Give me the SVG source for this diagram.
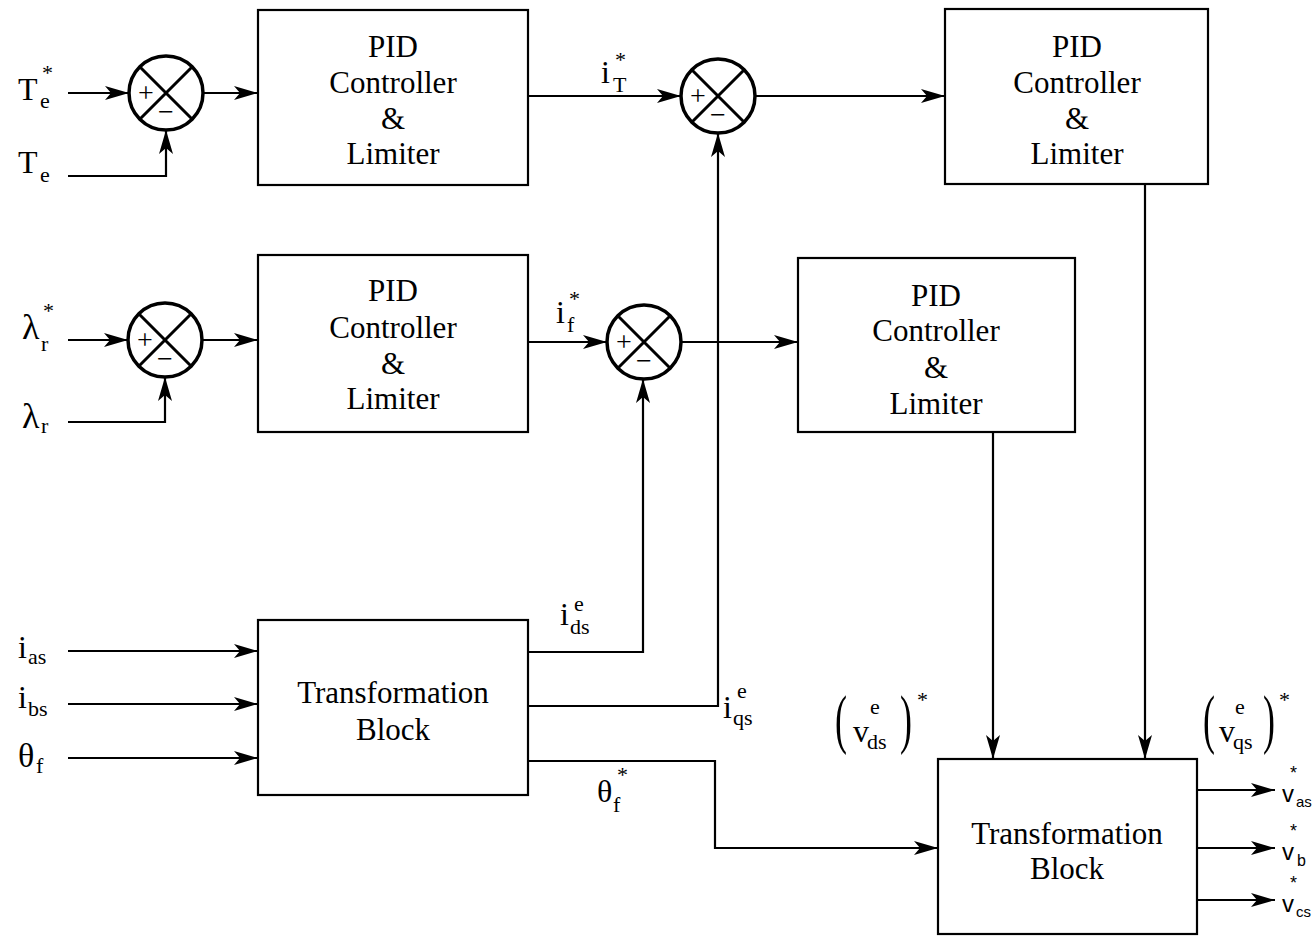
<svg xmlns="http://www.w3.org/2000/svg" width="1312" height="936" viewBox="0 0 1312 936">
<defs>
<style>
.box{fill:#fff;stroke:#000;stroke-width:2.2}
.sum{fill:#fff;stroke:#000;stroke-width:3.5}
.x{stroke:#000;stroke-width:3}
.ln{fill:none;stroke:#000;stroke-width:2.2}
.t{font-family:"Liberation Serif","Times New Roman",serif;font-size:32px;fill:#000}
.bt{font-family:"Liberation Serif","Times New Roman",serif;font-size:31px;fill:#000;text-anchor:middle}
.sub{font-family:"Liberation Serif","Times New Roman",serif;font-size:22px;fill:#000}
.sg{font-family:"Liberation Serif","Times New Roman",serif;font-size:28px;fill:#000;text-anchor:middle}
.ss{font-family:"Liberation Sans",Arial,sans-serif;fill:#000}
.par{font-family:"Liberation Serif","Times New Roman",serif;font-size:60px;fill:#000}
</style>
<marker id="arr" markerWidth="24" markerHeight="14" refX="24" refY="7" orient="auto" markerUnits="userSpaceOnUse">
<path d="M0,0 L24,7 L0,14 L6,7 z" fill="#000"/>
</marker>
</defs>
<rect width="1312" height="936" fill="#fff"/>

<g id="connectors" class="ln" marker-end="url(#arr)">
<path d="M68,93 H129"/>
<path d="M68,176 H166 V130"/>
<path d="M203,93 H258"/>
<path d="M528,96 H681"/>
<path d="M755,96 H945"/>
<path d="M68,340 H128"/>
<path d="M68,422 H165 V377"/>
<path d="M202,340 H258"/>
<path d="M528,342 H607"/>
<path d="M681,342 H798"/>
<path d="M528,652 H643 V379"/>
<path d="M528,706 H718 V133"/>
<path d="M528,761 H715 V848 H938"/>
<path d="M993,432 V759"/>
<path d="M1145,184 V759"/>
<path d="M1197,790 H1275"/>
<path d="M1197,848 H1275"/>
<path d="M1197,900 H1275"/>
<path d="M68,651 H258"/>
<path d="M68,704 H258"/>
<path d="M68,758 H258"/>
</g>

<g id="sum1">
<circle class="sum" cx="166" cy="93" r="37"/>
<path class="x" d="M140,67 L192,119 M192,67 L140,119"/>
<text class="sg" x="146" y="102">+</text>
<text class="sg" x="166" y="121">−</text>
</g>
<g id="sum2">
<circle class="sum" cx="165" cy="340" r="37"/>
<path class="x" d="M139,314 L191,366 M191,314 L139,366"/>
<text class="sg" x="145" y="349">+</text>
<text class="sg" x="165" y="368">−</text>
</g>
<g id="sum3">
<circle class="sum" cx="718" cy="96" r="37"/>
<path class="x" d="M692,70 L744,122 M744,70 L692,122"/>
<text class="sg" x="698" y="105">+</text>
<text class="sg" x="718" y="124">−</text>
</g>
<g id="sum4">
<circle class="sum" cx="644" cy="342" r="37"/>
<path class="x" d="M618,316 L670,368 M670,316 L618,368"/>
<text class="sg" x="624" y="351">+</text>
<text class="sg" x="644" y="370">−</text>
</g>

<g id="pid1">
<rect class="box" x="258" y="10" width="270" height="175"/>
<text class="bt" x="393" y="57">PID</text>
<text class="bt" x="393" y="93">Controller</text>
<text class="bt" x="393" y="129">&amp;</text>
<text class="bt" x="393" y="164">Limiter</text>
</g>
<g id="pid2">
<rect class="box" x="258" y="255" width="270" height="177"/>
<text class="bt" x="393" y="301">PID</text>
<text class="bt" x="393" y="338">Controller</text>
<text class="bt" x="393" y="374">&amp;</text>
<text class="bt" x="393" y="409">Limiter</text>
</g>
<g id="pid3">
<rect class="box" x="798" y="258" width="277" height="174"/>
<text class="bt" x="936" y="306">PID</text>
<text class="bt" x="936" y="341">Controller</text>
<text class="bt" x="936" y="378">&amp;</text>
<text class="bt" x="936" y="414">Limiter</text>
</g>
<g id="pid4">
<rect class="box" x="945" y="9" width="263" height="175"/>
<text class="bt" x="1077" y="57">PID</text>
<text class="bt" x="1077" y="93">Controller</text>
<text class="bt" x="1077" y="129">&amp;</text>
<text class="bt" x="1077" y="164">Limiter</text>
</g>
<g id="trans1">
<rect class="box" x="258" y="620" width="270" height="175"/>
<text class="bt" x="393" y="703">Transformation</text>
<text class="bt" x="393" y="740">Block</text>
</g>
<g id="trans2">
<rect class="box" x="938" y="759" width="259" height="175"/>
<text class="bt" x="1067" y="844">Transformation</text>
<text class="bt" x="1067" y="879">Block</text>
</g>

<g id="labels">
<text class="t" x="18" y="100">T</text><text class="sub" x="40" y="108">e</text><text class="sub" x="42" y="80">*</text>
<text class="t" x="18" y="173">T</text><text class="sub" x="40" y="182">e</text>
<text class="t" x="22" y="339" style="font-size:36px">λ</text><text class="sub" x="41" y="351">r</text><text class="sub" x="43" y="318">*</text>
<text class="t" x="22" y="428" style="font-size:36px">λ</text><text class="sub" x="41" y="433">r</text>
<text class="t" x="18" y="658">i</text><text class="sub" x="28" y="664">as</text>
<text class="t" x="18" y="708">i</text><text class="sub" x="28" y="716">bs</text>
<text class="t" x="18" y="767" style="font-size:34px">θ</text><text class="sub" x="36" y="773">f</text>
<text class="t" x="601" y="83">i</text><text class="sub" x="613" y="92">T</text><text class="sub" x="615" y="67">*</text>
<text class="t" x="556" y="323">i</text><text class="sub" x="567" y="332">f</text><text class="sub" x="569" y="306">*</text>
<text class="t" x="560" y="625">i</text><text class="sub" x="570" y="634">ds</text><text class="sub" x="574" y="611">e</text>
<text class="t" x="723" y="718">i</text><text class="sub" x="733" y="725">qs</text><text class="sub" x="737" y="698">e</text>
<text class="t" x="597" y="802">θ</text><text class="sub" x="613" y="812">f</text><text class="sub" x="617" y="782">*</text>
<text class="par" transform="translate(835,741) scale(0.6,1.1)">(</text>
<text class="t" x="853" y="742">v</text><text class="sub" x="867" y="749">ds</text><text class="sub" x="870" y="714">e</text>
<text class="par" transform="translate(900,741) scale(0.6,1.1)">)</text><text class="sub" x="917" y="707">*</text>
<text class="par" transform="translate(1203,741) scale(0.6,1.1)">(</text>
<text class="t" x="1219" y="742">v</text><text class="sub" x="1233" y="749">qs</text><text class="sub" x="1235" y="714">e</text>
<text class="par" transform="translate(1263,741) scale(0.6,1.1)">)</text><text class="sub" x="1279" y="707">*</text>
<text class="ss" x="1282" y="802" style="font-size:24px">v</text><text class="ss" x="1296" y="807" style="font-size:15px">as</text><text class="ss" x="1290" y="779" style="font-size:18px">*</text>
<text class="ss" x="1282" y="860" style="font-size:24px">v</text><text class="ss" x="1297" y="866" style="font-size:16px">b</text><text class="ss" x="1290" y="837" style="font-size:18px">*</text>
<text class="ss" x="1282" y="912" style="font-size:24px">v</text><text class="ss" x="1296" y="917" style="font-size:15px">cs</text><text class="ss" x="1290" y="889" style="font-size:18px">*</text>
</g>
</svg>
